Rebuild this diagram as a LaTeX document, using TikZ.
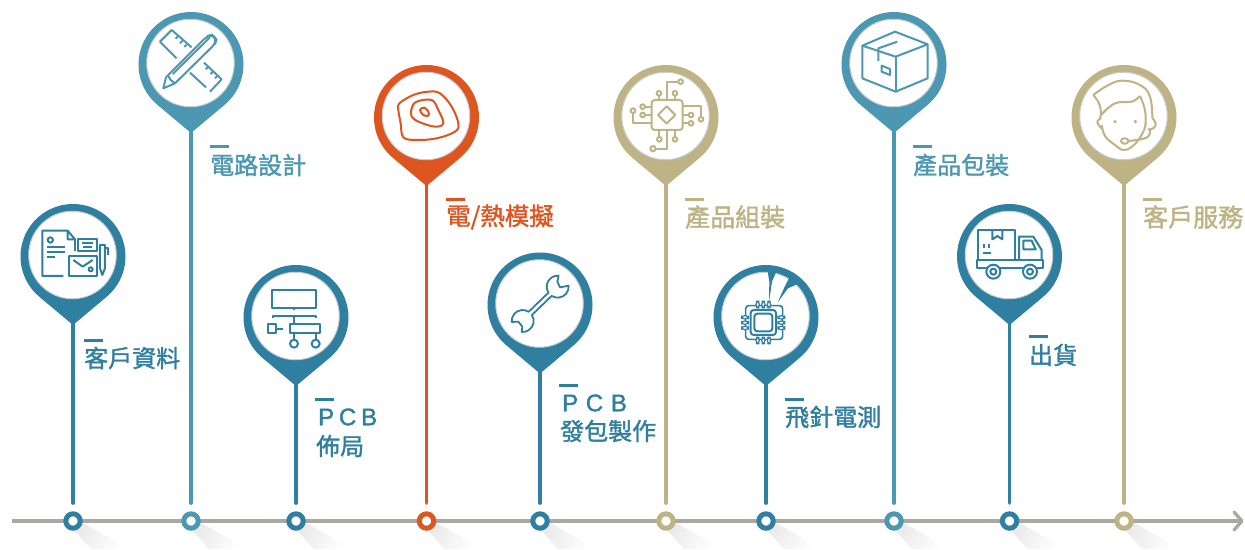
\documentclass[tikz,border=0pt]{standalone}
\usepackage{fontspec}
\setmainfont{Liberation Sans}
\newfontfamily\cjkfont{Noto Sans CJK TC}[FakeBold=1.5]
\newfontfamily\pcbA{Liberation Sans}[LetterSpace=20,FakeBold=1.5]
\newfontfamily\pcbB{Liberation Sans}[LetterSpace=32,FakeBold=1.5]
\definecolor{cdark}{HTML}{2F7FA0}
\definecolor{clight}{HTML}{4C98B3}
\definecolor{corange}{HTML}{DD551F}
\definecolor{ckhaki}{HTML}{BDB384}
\definecolor{caxis}{HTML}{A9A9A2}
\definecolor{cedge}{HTML}{C9CDCF}
\definecolor{cshadow}{HTML}{EAEAEA}
\tikzset{
  axisline/.style={draw=caxis,line width=3.3pt},
  stemline/.style={line width=3.7pt,line cap=round},
  pinface/.style={circle,fill=white,draw=cedge,line width=1pt,minimum size=87.5pt,inner sep=0pt},
  dotmark/.style={circle,fill=white,line width=5pt,minimum size=14.4pt,inner sep=0pt},
  barline/.style={line width=3pt},
  labeltext/.style={anchor=west,inner sep=0pt,font=\cjkfont\fontsize{#1}{#1}\selectfont},
  labeltext/.default=24,
  pcbtext/.style={anchor=west,inner sep=0pt},
  icon/.style={line width=2pt,line join=round},
  pillmark/.style={fill=white,rounded corners=3pt,line width=1.2pt},
}
% #1 id, #2 colour, #3 cx, #4 cy
\newcommand{\pinmark}[4]{%
  \fill[#2] (#3,#4+68.5) -- ({#3+52.5*cos(50)},{#4+52.5*sin(50)})
     arc[start angle=50,end angle=-230,radius=52.5] -- cycle;
  \node[pinface] (face#1) at (#3-0.5,#4-1.5) {};
  \coordinate (tip#1) at (#3,#4+66);
  \coordinate (stop#1) at (#3,503);
  \draw[stemline,#2] (tip#1) -- (stop#1);
  \shade[left color=cshadow,right color=white,shading angle=60]
     (#3+5,522) -- (#3+12,524) -- (#3+56,549) -- (#3+18,549) -- (#3+1,530) -- cycle;
}
\newcommand{\dotat}[3]{\node[dotmark,draw=#2] (dot#1) at (#3,521) {};}
\newcommand{\barat}[4]{\coordinate (barA#1) at (#3,#4); \coordinate (barB#1) at (#3+19,#4); \draw[barline,#2] (barA#1) -- (barB#1);}
\begin{document}
\begin{tikzpicture}[x=1pt,y=-1pt]
\useasboundingbox (0,0) rectangle (1245,549);
\fill[white] (0,0) rectangle (1245,549);
% pins
\pinmark{1}{cdark}{73}{256.5}
\pinmark{2}{clight}{191}{64.5}
\pinmark{3}{cdark}{296}{317.5}
\pinmark{4}{corange}{426.5}{117.5}
\pinmark{5}{cdark}{540}{305}
\pinmark{6}{ckhaki}{666}{117.5}
\pinmark{7}{cdark}{766}{317.5}
\pinmark{8}{clight}{894}{64.5}
\pinmark{9}{cdark}{1009.5}{256.5}
\pinmark{10}{ckhaki}{1124}{117.5}
% axis
\coordinate (axisA) at (12,521);
\coordinate (axisB) at (1242,521);
\coordinate (chevA) at (1234,512);
\coordinate (chevB) at (1234,530);
\draw[axisline] (axisA) -- (axisB);
\draw[axisline,line cap=round,line join=round] (chevA) -- (axisB) -- (chevB);
\dotat{1}{cdark}{73}
\dotat{2}{clight}{191}
\dotat{3}{cdark}{296}
\dotat{4}{corange}{426.5}
\dotat{5}{cdark}{540}
\dotat{6}{ckhaki}{666}
\dotat{7}{cdark}{766}
\dotat{8}{clight}{894}
\dotat{9}{cdark}{1009.5}
\dotat{10}{ckhaki}{1124}
% labels
\barat{1}{cdark}{84}{340}
\node[labeltext,text=cdark] (lab1) at (84,358) {客戶資料};
\barat{2}{clight}{210}{146.5}
\node[labeltext,text=clight] (lab2) at (210,165) {電路設計};
\barat{3}{cdark}{315}{399.5}
\node[pcbtext,text=cdark,font=\pcbA\fontsize{24}{24}\selectfont] (lab3a) at (318,417) {PCB};
\node[labeltext,text=cdark] (lab3b) at (316,446) {佈局};
\barat{4}{corange}{446}{199}
\node[labeltext=24.5,text=corange] (lab4) at (446,217) {電/熱模擬};
\barat{5}{cdark}{559}{385}
\node[pcbtext,text=cdark,font=\pcbB\fontsize{24}{24}\selectfont] (lab5a) at (562,403) {PCB};
\node[labeltext,text=cdark] (lab5b) at (560,431) {發包製作};
\barat{6}{ckhaki}{685}{199}
\node[labeltext=25,text=ckhaki] (lab6) at (685,217) {產品組裝};
\barat{7}{cdark}{785}{399}
\node[labeltext,text=cdark] (lab7) at (785,417) {飛針電測};
\barat{8}{clight}{913}{146.5}
\node[labeltext,text=clight] (lab8) at (913,165) {產品包裝};
\barat{9}{cdark}{1029}{336.5}
\node[labeltext,text=cdark] (lab9) at (1029,355) {出貨};
\barat{10}{ckhaki}{1143}{199}
\node[labeltext=25,text=ckhaki] (lab10) at (1143,217) {客戶服務};
% icon 1
\begin{scope}[x=0.3333pt,y=-0.3333pt,shift={(0pt,-190pt)},icon,draw=cdark]
\draw (190,258) -- (127,258) -- (127,122) -- (203,122) -- (225,148) -- (203,148) -- (203,122);
\draw (225,148) -- (225,182);
\draw (151,150) circle[radius=8];
\draw (141,172) -- (195,172) (141,186) -- (195,186) (141,200) -- (165,200);
\draw (235,147) rectangle (290,183);
\draw (245,158) -- (278,158) (248,170) -- (275,170);
\draw (207,197) rectangle (290,258);
\draw (220,210) -- (248,230) -- (278,210);
\draw (272,238) circle[radius=6];
\draw (300,165) -- (315,165) -- (315,235) -- (307,255) -- (300,235) -- cycle;
\draw (315,175) -- (323,175) -- (323,195);
\end{scope}
% icon 2
\begin{scope}[x=0.3333pt,y=-0.3333pt,shift={(130pt,0pt)},icon,draw=clight]
\draw (140,175) -- (90,125) -- (125,90) -- (185,142);
\draw (180,218) -- (228,262);
\draw (222,188) -- (275,238) -- (240,275);
\draw (145,108) -- (137,116) (158,122) -- (150,130) (170,134) -- (163,141);
\draw (235,200) -- (227,208) (250,214) -- (242,222) (263,227) -- (255,235);
\draw[rounded corners=5pt] (108,232) -- (232,108) -- (247,104) -- (260,118) -- (255,132) -- (135,250);
\draw (108,232) -- (100,265) -- (135,250);
\draw (115,228) -- (122,240) -- (135,250);
\draw (128,222) -- (240,112);
\end{scope}
% icon 3
\begin{scope}[x=0.3333pt,y=-0.3333pt,shift={(230pt,-260pt)},icon,draw=cdark]
\draw (127,90) rectangle (258,143);
\draw (192,143) -- (192,150);
\draw (128,175) -- (128,168) -- (258,168) -- (258,175);
\draw (192,168) -- (192,190);
\draw (114,193) rectangle (137,219);
\draw (137,206) -- (160,206);
\draw (179,192) rectangle (271,220);
\draw (192,220) -- (192,240) (257,220) -- (257,240);
\draw (192,251) circle[radius=12] (257,251) circle[radius=12];
\end{scope}
% icon 4
\begin{scope}[x=0.3333pt,y=-0.3333pt,shift={(370pt,-60pt)},icon,draw=corange]
\draw plot[smooth cycle,tension=.6] coordinates {(88,130) (130,105) (175,95) (210,100) (245,140) (265,190) (255,215) (200,235) (140,240) (100,232) (92,190) (85,150)};
\draw plot[smooth cycle,tension=.6] coordinates {(125,145) (140,125) (185,120) (205,150) (220,190) (195,200) (150,187) (125,170)};
\draw plot[smooth cycle,tension=.6] coordinates {(150,150) (163,143) (175,155) (175,167) (160,165)};
\end{scope}
% icon 5
\begin{scope}[x=0.3333pt,y=-0.3333pt,shift={(480pt,-250pt)},icon,draw=cdark,line width=1.8pt]
\draw (205.3,128) arc[start angle=147,end angle=275,radius=33] -- (232,95) -- (240,112) -- (265.9,107.1) arc[start angle=-5,end angle=123,radius=33] -- (155.7,195) arc[start angle=-33,end angle=95,radius=33] -- (127,230) -- (115,215) -- (95.1,215.9) arc[start angle=175,end angle=303,radius=33] -- cycle;
\end{scope}
% icon 6
\begin{scope}[x=0.3333pt,y=-0.3333pt,shift={(610pt,-60pt)},icon,draw=ckhaki]
\draw[rounded corners=3pt] (125,120) rectangle (218,210);
\draw (170,139) -- (196,165) -- (170,191) -- (144,165) -- cycle;
\draw (147,107) -- (147,120) (195,107) -- (195,120) (170,120) -- (170,65) -- (205,65);
\draw (147,100) circle[radius=7] (195,100) circle[radius=7] (212,65) circle[radius=7];
\draw (218,165) -- (237,165) (218,190) -- (237,190) (218,138) -- (273,138) -- (273,172);
\draw (243,165) circle[radius=7] (243,190) circle[radius=7] (273,178) circle[radius=7];
\draw (148,210) -- (148,232) (195,210) -- (195,232) (170,210) -- (170,266) -- (137,266);
\draw (148,238) circle[radius=7] (195,238) circle[radius=7] (129,266) circle[radius=8];
\draw (105,140) -- (125,140) (105,165) -- (125,165) (125,190) -- (70,190) -- (70,158);
\draw (98,140) circle[radius=7] (98,165) circle[radius=7] (69,152) circle[radius=7];
\end{scope}
% icon 7
\begin{scope}[x=0.3333pt,y=-0.3333pt,shift={(710pt,-260pt)},icon,draw=cdark]
\fill[cdark] (172,28) -- (200,32) -- (186,65) -- (177,125) -- (178,65) -- cycle;
\fill[cdark] (240,48) -- (264,72) -- (234,85) -- (203,127) -- (224,80) -- cycle;
\draw[rounded corners=3pt,line width=1.6pt] (107,137) rectangle (218,238);
\draw[rounded corners=3pt] (122,150) rectangle (198,225);
\draw[rounded corners=3pt] (133,161) rectangle (187,214);
\foreach \px in {143,160,177} {
  \filldraw[pillmark] (\px-5,124) rectangle (\px+5,143);
  \filldraw[pillmark] (\px-5,232) rectangle (\px+5,251);
}
\foreach \py in {172,188,204} {
  \filldraw[pillmark] (95,\py-5) rectangle (115,\py+5);
  \filldraw[pillmark] (204,\py-5) rectangle (224,\py+5);
}
\end{scope}
% icon 8
\begin{scope}[x=0.3333pt,y=-0.3333pt,shift={(835pt,-5pt)},icon,draw=clight]
\draw (180,80) -- (278,118) -- (182,155) -- (82,122) -- cycle;
\draw (82,122) -- (82,220) -- (182,260) -- (278,220) -- (278,118);
\draw (182,155) -- (182,260);
\draw (187,110) -- (130,130) -- (130,168);
\draw (140,182) -- (165,192) -- (165,210) -- (140,200) -- cycle;
\end{scope}
% icon 9
\begin{scope}[x=0.3333pt,y=-0.3333pt,shift={(950pt,-200pt)},icon,draw=cdark]
\draw (85,180) -- (85,90) -- (195,90) -- (195,180);
\draw (127,90) -- (127,118) -- (142,108) -- (157,118) -- (157,90);
\draw (103,132) -- (103,145) (117,132) -- (117,145) (100,160) -- (122,160);
\draw (207,180) -- (207,110) -- (250,110) -- (275,150) -- (275,180);
\draw (220,122) -- (245,122) -- (257,148) -- (220,148) -- cycle;
\draw (80,180) rectangle (280,205);
\filldraw[fill=white] (130,215) circle[radius=21];
\filldraw[fill=white] (240,215) circle[radius=21];
\draw (130,215) circle[radius=9] (240,215) circle[radius=9];
\end{scope}
% icon 10
\begin{scope}[x=0.3333pt,y=-0.3333pt,shift={(1065pt,-60pt)},icon,draw=ckhaki]
\draw plot[smooth,tension=.7] coordinates {(85,105) (125,78) (170,62) (225,75) (255,110) (262,175)};
\draw plot[smooth,tension=.7] coordinates {(85,105) (102,130) (108,160) (105,175)};
\draw plot[smooth,tension=.7] coordinates {(108,165) (150,130) (200,125) (225,108)};
\draw plot[smooth,tension=.7] coordinates {(225,108) (240,150) (242,195)};
\draw plot[smooth,tension=.7] coordinates {(110,195) (120,228) (150,255) (178,270) (210,252) (235,215) (242,190)};
\draw plot[smooth,tension=.8] coordinates {(108,175) (97,187) (112,207)};
\draw plot[smooth,tension=.8] coordinates {(262,175) (272,190) (265,205) (248,208)};
\draw plot[smooth,tension=.7] coordinates {(255,210) (245,233) (190,243)};
\draw[rounded corners=3pt] (168,235) rectangle (190,251);
\fill[ckhaki] (150,185) circle[radius=5.5] (211,185) circle[radius=5.5];
\end{scope}
\end{tikzpicture}
\end{document}
